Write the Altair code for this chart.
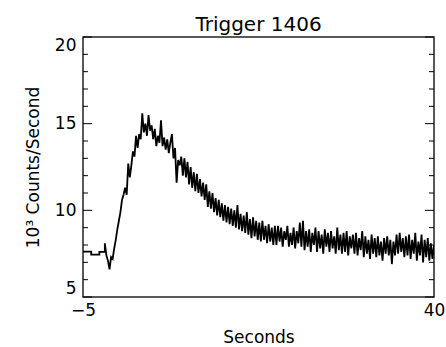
import altair as alt
import pandas as pd

# pre-trigger 1.024 s bins (bin start, value); last bin ends where fine data begins
pre_t = [-5.0, -3.95, -2.9]
pre_v = [7.62, 7.45, 7.60]

# finer bins from -2.2 s, 0.2 s apart (10^3 counts/s)
fine_t0 = -2.2
fine_dt = 0.2
fine_v = [
    8.1, 7.4, 7.1, 6.6, 7.3, 7.2, 7.8, 8.3, 8.9, 9.4,
    9.9, 10.6, 10.9, 11.3, 10.9, 12.7, 11.9, 12.6, 13.4, 13.1,
    14.3, 13.6, 14.4, 14.1, 15.6, 14.5, 15.0, 14.3, 15.5, 14.6,
    14.9, 14.1, 14.7, 13.7, 14.3, 13.9, 15.2, 13.7, 14.2, 13.5,
    14.1, 13.3, 13.9, 14.4, 13.0, 13.6, 11.6, 12.9, 12.6, 13.1,
    12.0, 13.0, 11.9, 12.8, 11.5, 12.5, 11.3, 12.2, 11.1, 12.1,
    11.0, 11.8, 10.8, 11.6, 10.6, 11.5, 10.2, 11.1, 10.1, 11.0,
    9.9, 10.7, 9.7, 10.6, 9.6, 10.4, 9.4, 10.3, 9.3, 10.2,
    9.2, 10.1, 9.1, 10.0, 9.0, 10.3, 8.9, 9.8, 8.8, 9.7,
    8.7, 9.9, 8.6, 9.5, 8.4, 9.6, 8.5, 9.4, 8.3, 9.3,
    8.2, 9.4, 8.3, 9.1, 8.1, 9.2, 8.2, 9.0, 8.0, 9.1,
    8.0, 9.1, 8.2, 9.0, 7.9, 8.8, 8.3, 9.1, 7.9, 8.7,
    8.0, 9.0, 7.8, 8.8, 8.1, 9.3, 7.9, 9.4, 7.7, 8.8,
    7.9, 8.9, 7.6, 8.7, 8.0, 9.0, 7.6, 8.8, 7.8, 8.6,
    7.5, 8.9, 7.9, 8.7, 7.6, 8.8, 7.8, 8.5, 7.5, 9.0,
    7.7, 8.6, 7.5, 8.7, 7.6, 8.8, 7.4, 8.5, 7.8, 8.6,
    7.5, 8.7, 7.4, 8.4, 7.7, 8.8, 7.3, 8.5, 7.5, 8.3,
    7.2, 8.6, 7.5, 8.4, 7.3, 8.5, 7.4, 8.2, 7.1, 8.4,
    7.5, 8.5, 7.4, 8.3, 6.9, 8.2, 7.4, 8.6, 7.5, 8.7,
    7.6, 8.4, 7.3, 8.5, 7.4, 8.6, 7.2, 8.3, 7.5, 8.7,
    7.1, 8.2, 7.4, 8.6, 7.0, 8.3, 7.3, 8.4, 7.1, 8.1,
    7.2, 8.0,
]

x_ticks = [-5, 40]
y_labels = [5, 10, 15, 20]
y_minor = [6, 7, 8, 9, 11, 12, 13, 14, 16, 17, 18, 19]

# build vertices: histogram steps for the coarse bins, then the fine series
rows = []
edges = pre_t + [fine_t0]
for k, v in enumerate(pre_v):
    rows.append((edges[k], v))
    rows.append((edges[k + 1], v))
for i, v in enumerate(fine_v):
    rows.append((round(fine_t0 + i * fine_dt, 3), v))
df = pd.DataFrame(rows, columns=["t", "v"])
df["i"] = range(len(df))

W, H = 351, 260
FONT = "DejaVu Sans"

xscale = alt.Scale(domain=[-5, 40], nice=False, zero=False)
yscale = alt.Scale(domain=[5, 20], nice=False, zero=False)

xaxis = alt.Axis(values=x_ticks, title="Seconds", ticks=False, tickSize=0,
                 domain=False, grid=False, labelFont=FONT, labelFontSize=17,
                 labelColor="black", labelPadding=5, titleFont=FONT,
                 titleFontSize=17, titleFontWeight="normal", titleColor="black",
                 titlePadding=11, labelFlush=False)
yaxis = alt.Axis(values=y_labels, title="10³ Counts/Second", ticks=False,
                 tickSize=0, domain=False, grid=False, labelFont=FONT,
                 labelFontSize=17, labelColor="black", labelPadding=7,
                 labelFlush=True, labelFlushOffset=0, titleFont=FONT,
                 titleFontSize=17, titleFontWeight="normal", titleColor="black",
                 titlePadding=12)

line = alt.Chart(df).mark_line(
    color="black", strokeWidth=1.8, clip=True
).encode(
    x=alt.X("t:Q", scale=xscale, axis=xaxis),
    y=alt.Y("v:Q", scale=yscale, axis=yaxis),
    order="i:Q",
)

major_df = pd.DataFrame({"v": y_labels})
minor_df = pd.DataFrame({"v": y_minor})

def ticks(data, x0, x1):
    return alt.Chart(data).mark_rule(color="black", strokeWidth=1).encode(
        y=alt.Y("v:Q", scale=yscale, axis=yaxis),
        x=alt.value(x0), x2=alt.value(x1),
    )

chart = alt.layer(
    line,
    ticks(major_df, 0, 9), ticks(minor_df, 0, 5),
    ticks(major_df, W - 9, W), ticks(minor_df, W - 5, W),
).properties(
    width=W, height=H,
    title=alt.TitleParams("Trigger 1406", font=FONT, fontSize=20, fontWeight="normal",
                          color="black", baseline="bottom", offset=5, dy=24),
    autosize=alt.AutoSizeParams(type="none"),
    padding={"left": 83, "top": 37, "right": 12, "bottom": 50},
).configure(
    background="white",
    view=alt.ViewConfig(stroke="#222222", strokeWidth=1.5),
)

chart.save("out.html", embed_options={"renderer": "svg", "actions": False})
